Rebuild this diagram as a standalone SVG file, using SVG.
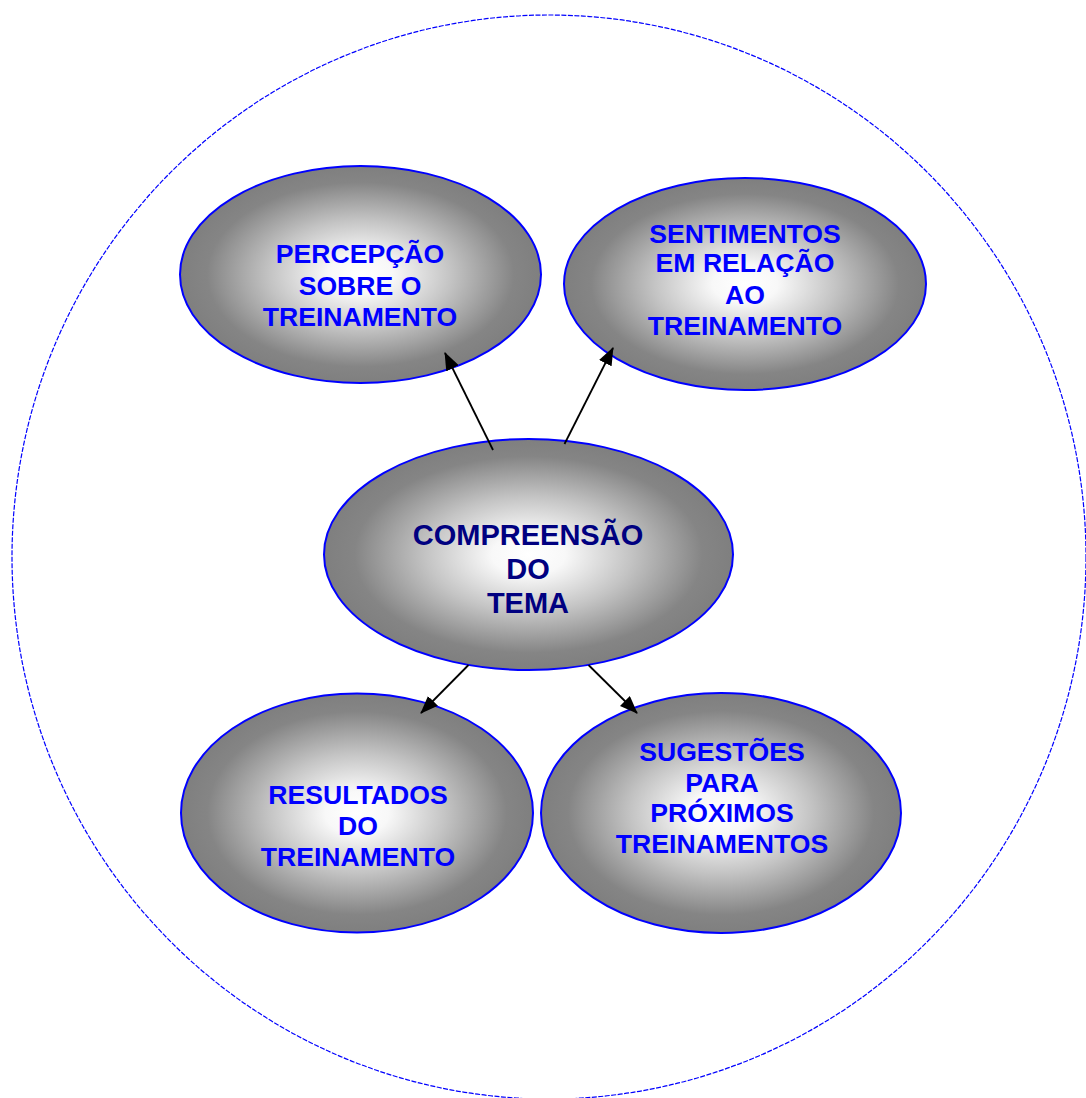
<svg xmlns="http://www.w3.org/2000/svg" width="1086" height="1098" viewBox="0 0 1086 1098">
<defs>
<radialGradient id="g" cx="50%" cy="50%" r="50%">
<stop offset="0" stop-color="#ffffff"/>
<stop offset="0.18" stop-color="#f8f8f8"/>
<stop offset="0.5" stop-color="#c4c4c4"/>
<stop offset="0.85" stop-color="#858585"/>
<stop offset="1" stop-color="#7f7f7f"/>
</radialGradient>
<marker id="ah" markerWidth="18" markerHeight="14" refX="17" refY="7" orient="auto" markerUnits="userSpaceOnUse">
<path d="M0,0 L18,7 L0,14 Z" fill="#000"/>
</marker>
<style>
.node{fill:url(#g);stroke:#0000ff;stroke-width:2}
.t{font-family:"Liberation Sans",Arial,sans-serif;font-weight:bold;font-size:26.6px;fill:#0000ff;text-anchor:middle}
.c{font-family:"Liberation Sans",Arial,sans-serif;font-weight:bold;font-size:29px;fill:#000080;text-anchor:middle}
.conn{stroke:#000;stroke-width:1.8;fill:none;marker-end:url(#ah)}
</style>
</defs>
<rect width="1086" height="1098" fill="#fff"/>
<ellipse id="outer" cx="549" cy="557" rx="537" ry="542" fill="none" stroke="#0000ff" stroke-width="1.2" stroke-dasharray="5 1.5"/>
<g id="n-percepcao">
<ellipse class="node" cx="360.5" cy="274.5" rx="180.5" ry="108.5"/>
<text class="t"><tspan x="360" y="263">PERCEPÇÃO</tspan><tspan x="360" y="295">SOBRE O</tspan><tspan x="360" y="326">TREINAMENTO</tspan></text>
</g>
<g id="n-sentimentos">
<ellipse class="node" cx="745" cy="284" rx="181" ry="106"/>
<text class="t"><tspan x="745" y="243">SENTIMENTOS</tspan><tspan x="745" y="272">EM RELAÇÃO</tspan><tspan x="745" y="304">AO</tspan><tspan x="745" y="335">TREINAMENTO</tspan></text>
</g>
<g id="n-compreensao">
<ellipse class="node" cx="528.5" cy="554.5" rx="204.5" ry="115.5"/>
<text class="c"><tspan x="528" y="545">COMPREENSÃO</tspan><tspan x="528" y="579">DO</tspan><tspan x="528" y="613">TEMA</tspan></text>
</g>
<g id="n-resultados">
<ellipse class="node" cx="357" cy="813" rx="176" ry="119.5"/>
<text class="t"><tspan x="358" y="804">RESULTADOS</tspan><tspan x="358" y="835">DO</tspan><tspan x="358" y="866">TREINAMENTO</tspan></text>
</g>
<g id="n-sugestoes">
<ellipse class="node" cx="721" cy="813" rx="180" ry="120"/>
<text class="t"><tspan x="722" y="761">SUGESTÕES</tspan><tspan x="722" y="792">PARA</tspan><tspan x="722" y="822">PRÓXIMOS</tspan><tspan x="722" y="853">TREINAMENTOS</tspan></text>
</g>
<g id="connectors">
<line class="conn" x1="493" y1="450" x2="445" y2="353"/>
<line class="conn" x1="564.5" y1="444" x2="613" y2="348"/>
<line class="conn" x1="468.5" y1="665" x2="421" y2="713"/>
<line class="conn" x1="588.5" y1="665" x2="637" y2="713"/>
</g>
</svg>
